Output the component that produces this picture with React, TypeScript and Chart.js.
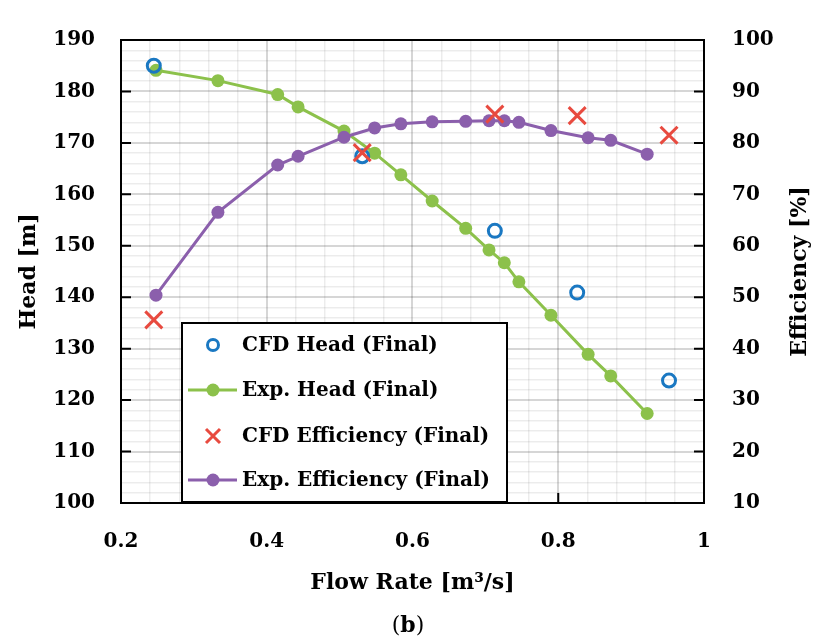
import React, { useEffect, useRef } from 'react';
import { Chart, registerables } from 'chart.js';

Chart.register(...registerables);

// ---- data ----
const expFlow = [0.248, 0.333, 0.415, 0.443, 0.506, 0.548, 0.584, 0.627, 0.673, 0.705, 0.726, 0.746, 0.79, 0.841, 0.872, 0.922];
const expHead = [184.1, 182.1, 179.4, 177.0, 172.3, 168.0, 163.8, 158.7, 153.4, 149.2, 146.7, 143.0, 136.5, 128.9, 124.7, 117.4];
const expEff = [50.4, 66.5, 75.7, 77.4, 81.1, 82.9, 83.7, 84.1, 84.2, 84.3, 84.3, 84.0, 82.4, 81.0, 80.5, 77.8];
const cfdFlow = [0.245, 0.531, 0.713, 0.826, 0.952];
const cfdHead = [185.0, 167.4, 152.9, 140.9, 123.8];
const cfdEff = [45.6, 78.1, 85.6, 85.3, 81.5];

const seriesLabels = ['CFD Head (Final)', 'Exp. Head (Final)', 'CFD Efficiency (Final)', 'Exp. Efficiency (Final)'];
const xTicks = [0.2, 0.4, 0.6, 0.8, 1.0];
const headTicks = [100, 110, 120, 130, 140, 150, 160, 170, 180, 190];
const effTicks = [10, 20, 30, 40, 50, 60, 70, 80, 90, 100];
const xTitle = 'Flow Rate [m\u00B3/s]';
const yTitle = 'Head [m]';
const y2Title = 'Efficiency [%]';

const GREEN = '#8cc14b';
const PURPLE = '#8b5fac';
const BLUE = '#1a78c2';
const RED = '#e84a3f';
const FONT = '"DejaVu Serif", serif';
const MAJOR = 'rgba(0,0,0,0.16)';
const MINOR = 'rgba(0,0,0,0.075)';

const pts = (xs: number[], ys: number[]) => xs.map((x, i) => ({ x, y: ys[i] }));

const isMult = (v: number, step: number) => Math.abs(v / step - Math.round(v / step)) < 1e-6;

const overlay = {
  id: 'overlay',
  beforeDatasetsDraw(chart: any) {
    const { ctx, chartArea: a, scales } = chart;
    ctx.save();
    ctx.strokeStyle = '#000';
    ctx.lineWidth = 2;
    ctx.beginPath();
    for (const v of xTicks) {
      const px = scales.x.getPixelForValue(v);
      ctx.moveTo(px, a.bottom);
      ctx.lineTo(px, a.bottom - 10);
    }
    for (const v of headTicks) {
      const py = scales.y.getPixelForValue(v);
      ctx.moveTo(a.left, py);
      ctx.lineTo(a.left + 10, py);
    }
    for (const v of effTicks) {
      const py = scales.y2.getPixelForValue(v);
      ctx.moveTo(a.right, py);
      ctx.lineTo(a.right - 10, py);
    }
    ctx.stroke();
    ctx.strokeRect(a.left, a.top, a.right - a.left, a.bottom - a.top);
    ctx.restore();
  },
  afterDraw(chart: any) {
    const { ctx, chartArea: a } = chart;
    ctx.save();
    ctx.fillStyle = '#000';
    // axis titles
    ctx.font = `bold 22px ${FONT}`;
    ctx.textAlign = 'center';
    ctx.textBaseline = 'middle';
    ctx.fillText(xTitle, (a.left + a.right) / 2, a.bottom + 80);
    const cy = (a.top + a.bottom) / 2;
    ctx.save();
    ctx.translate(29, cy);
    ctx.rotate(-Math.PI / 2);
    ctx.fillText(yTitle, 0, 0);
    ctx.restore();
    ctx.save();
    ctx.translate(800, cy);
    ctx.rotate(-Math.PI / 2);
    ctx.fillText(y2Title, 0, 0);
    ctx.restore();

    // caption (b)
    ctx.font = `22px ${FONT}`;
    const w1 = ctx.measureText('(').width;
    ctx.font = `bold 22px ${FONT}`;
    const w2 = ctx.measureText('b').width;
    ctx.font = `22px ${FONT}`;
    const w3 = ctx.measureText(')').width;
    let cx = 408 - (w1 + w2 + w3) / 2;
    ctx.textAlign = 'left';
    ctx.fillText('(', cx, 626);
    cx += w1;
    ctx.font = `bold 22px ${FONT}`;
    ctx.fillText('b', cx, 626);
    cx += w2;
    ctx.font = `22px ${FONT}`;
    ctx.fillText(')', cx, 626);

    // legend box
    const lx = a.left + 61;
    const ly = a.top + 283;
    const lw = 325;
    const lh = 179;
    ctx.fillStyle = '#fff';
    ctx.fillRect(lx, ly, lw, lh);
    ctx.strokeStyle = '#000';
    ctx.lineWidth = 2;
    ctx.strokeRect(lx, ly, lw, lh);
    const rows = [22, 67, 113, 157];
    const sx = lx + 31;
    rows.forEach((dy, i) => {
      const ry = ly + dy;
      if (i === 0) {
        ctx.strokeStyle = BLUE;
        ctx.lineWidth = 3;
        ctx.beginPath();
        ctx.arc(sx, ry, 5.5, 0, Math.PI * 2);
        ctx.stroke();
      } else if (i === 2) {
        ctx.strokeStyle = RED;
        ctx.lineWidth = 3;
        ctx.beginPath();
        ctx.moveTo(sx - 7, ry - 7);
        ctx.lineTo(sx + 7, ry + 7);
        ctx.moveTo(sx + 7, ry - 7);
        ctx.lineTo(sx - 7, ry + 7);
        ctx.stroke();
      } else {
        const c = i === 1 ? GREEN : PURPLE;
        ctx.strokeStyle = c;
        ctx.lineWidth = 3;
        ctx.beginPath();
        ctx.moveTo(lx + 6, ry);
        ctx.lineTo(lx + 55, ry);
        ctx.stroke();
        ctx.fillStyle = c;
        ctx.beginPath();
        ctx.arc(sx, ry, 6.5, 0, Math.PI * 2);
        ctx.fill();
      }
      ctx.fillStyle = '#000';
      ctx.font = `bold 20px ${FONT}`;
      ctx.textAlign = 'left';
      ctx.textBaseline = 'middle';
      ctx.fillText(seriesLabels[i], lx + 60, ry + 1);
    });
    ctx.restore();
  },
};

export default function App() {
  const ref = useRef<HTMLCanvasElement | null>(null);
  useEffect(() => {
    if (!ref.current) return;
    const tickFont = { family: FONT, size: 20, weight: 'bold' as const };
    const chart = new Chart(ref.current, {
      type: 'scatter',
      data: {
        datasets: [
          {
            label: seriesLabels[0],
            data: pts(cfdFlow, cfdHead),
            yAxisID: 'y',
            showLine: false,
            pointStyle: 'circle',
            pointRadius: 6.5,
            pointBorderWidth: 3,
            pointBorderColor: BLUE,
            pointBackgroundColor: 'rgba(0,0,0,0)',
            order: 1,
          },
          {
            label: seriesLabels[1],
            data: pts(expFlow, expHead),
            yAxisID: 'y',
            showLine: true,
            borderColor: GREEN,
            borderWidth: 3,
            pointRadius: 6.5,
            pointBorderWidth: 0,
            pointBackgroundColor: GREEN,
            pointBorderColor: GREEN,
            order: 3,
          },
          {
            label: seriesLabels[2],
            data: pts(cfdFlow, cfdEff),
            yAxisID: 'y2',
            showLine: false,
            pointStyle: 'crossRot',
            pointRadius: 12,
            pointBorderWidth: 3,
            pointBorderColor: RED,
            order: 0,
          },
          {
            label: seriesLabels[3],
            data: pts(expFlow, expEff),
            yAxisID: 'y2',
            showLine: true,
            borderColor: PURPLE,
            borderWidth: 3,
            pointRadius: 6.5,
            pointBorderWidth: 0,
            pointBackgroundColor: PURPLE,
            pointBorderColor: PURPLE,
            order: 2,
          },
        ],
      },
      options: {
        animation: false,
        responsive: true,
        maintainAspectRatio: false,
        layout: { padding: { top: 27, left: 0, right: 0, bottom: 0 } },
        plugins: { legend: { display: false }, tooltip: { enabled: false }, title: { display: false } },
        scales: {
          x: {
            type: 'linear',
            min: 0.2,
            max: 1.0,
            afterFit: (s: any) => { s.height = 141; },
            border: { display: false },
            grid: {
              drawTicks: false,
              color: (c: any) => (c.tick && isMult(c.tick.value, 0.2) ? MAJOR : MINOR),
              lineWidth: (c: any) => (c.tick && isMult(c.tick.value, 0.2) ? 2 : 1.5),
            },
            ticks: {
              stepSize: 0.04,
              autoSkip: false,
              maxRotation: 0,
              padding: 27,
              color: '#000',
              font: tickFont,
              callback: (v: any) => {
                const r = Math.round(Number(v) * 100) / 100;
                if (!isMult(r, 0.2)) return '';
                return r === 1 ? '1' : r.toFixed(1);
              },
            },
          },
          y: {
            type: 'linear',
            position: 'left',
            min: 100,
            max: 190,
            afterFit: (s: any) => { s.width = 121; },
            border: { display: false },
            grid: {
              drawTicks: false,
              color: (c: any) => (c.tick && isMult(c.tick.value, 10) ? MAJOR : MINOR),
              lineWidth: (c: any) => (c.tick && isMult(c.tick.value, 10) ? 2 : 1.5),
            },
            ticks: {
              stepSize: 2,
              autoSkip: false,
              padding: 26,
              color: '#000',
              font: tickFont,
              callback: (v: any) => (isMult(Number(v), 10) ? String(Math.round(Number(v))) : ''),
            },
          },
          y2: {
            type: 'linear',
            position: 'right',
            min: 10,
            max: 100,
            afterFit: (s: any) => { s.width = 112; },
            border: { display: false },
            grid: { display: false, drawTicks: false },
            ticks: {
              stepSize: 10,
              autoSkip: false,
              padding: 28,
              color: '#000',
              font: tickFont,
            },
          },
        },
      },
      plugins: [overlay],
    });
    return () => chart.destroy();
  }, []);

  return (
    <div style={{ position: 'fixed', left: 0, top: 0, width: 816, height: 644, background: '#fff' }}>
      <canvas ref={ref} />
    </div>
  );
}
